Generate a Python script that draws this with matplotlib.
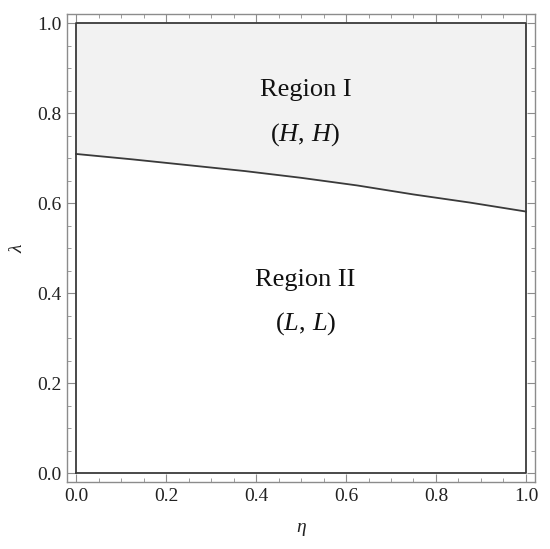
import matplotlib
matplotlib.use("Agg")
import matplotlib.pyplot as plt
from matplotlib.ticker import MultipleLocator, FormatStrFormatter
import numpy as np

# ============================================================
# FONT CONFIGURATION
# ============================================================
plt.rcParams['font.family'] = ['Liberation Serif', 'DejaVu Serif']
plt.rcParams['mathtext.fontset'] = 'custom'
plt.rcParams['mathtext.rm'] = 'Liberation Serif'
plt.rcParams['mathtext.it'] = 'Liberation Serif:italic'

# ============================================================
# DATA (boundary between the two regions)
# ============================================================
eta = [0.0, 0.125, 0.25, 0.375, 0.5, 0.625, 0.75, 0.875, 1.0]
lam_boundary = [0.709, 0.697, 0.684, 0.671, 0.656, 0.639, 0.619, 0.601, 0.581]

region_labels = ["Region I", r"$(H,\,H)$", "Region II", r"$(L,\,L)$"]
region_pos = [(0.51, 0.851), (0.51, 0.751), (0.51, 0.429), (0.51, 0.333)]

frame_col = '#8c8c8c'
box_col = '#3a3a3a'

# ============================================================
# FIGURE
# ============================================================
fig = plt.figure(figsize=(5.5, 5.49), dpi=100)
ax = fig.add_axes([67 / 550, (549 - 482) / 549, 468 / 550, 468 / 549])

eta_arr = np.array(eta)
lam_arr = np.array(lam_boundary)

# shaded region I
ax.fill_between(eta_arr, lam_arr, 1.0, color='#f2f2f2', lw=0, zorder=1)

# boundary curve and region box
ax.plot(eta_arr, lam_arr, color=box_col, lw=1.3, zorder=3)
ax.plot([0, 1, 1, 0, 0], [0, 0, 1, 1, 0], color=box_col, lw=1.3, zorder=3)

for txt, (px, py) in zip(region_labels, region_pos):
    ax.text(px, py, txt, ha='center', va='center', fontsize=19, color='#111111')

# ============================================================
# AXES FORMATTING (Mathematica-like frame)
# ============================================================
ax.set_xlim(-0.02, 1.02)
ax.set_ylim(-0.02, 1.02)
ax.xaxis.set_major_locator(MultipleLocator(0.2))
ax.xaxis.set_minor_locator(MultipleLocator(0.05))
ax.yaxis.set_major_locator(MultipleLocator(0.2))
ax.yaxis.set_minor_locator(MultipleLocator(0.05))
ax.xaxis.set_major_formatter(FormatStrFormatter('%.1f'))
ax.yaxis.set_major_formatter(FormatStrFormatter('%.1f'))

for sp in ax.spines.values():
    sp.set_color(frame_col)
    sp.set_linewidth(1.0)

ax.tick_params(which='both', direction='in', top=True, right=True,
               color=frame_col, labelsize=14, labelcolor='#222222')
ax.tick_params(which='major', length=6, width=0.8, pad=4)
ax.tick_params(which='minor', length=3, width=0.6)

ax.set_xlabel(r'$\eta$', fontsize=14, labelpad=12, color='#222222')
ax.set_ylabel(r'$\lambda$', fontsize=14, labelpad=8, color='#222222')

fig.savefig('out.png', dpi=100)
